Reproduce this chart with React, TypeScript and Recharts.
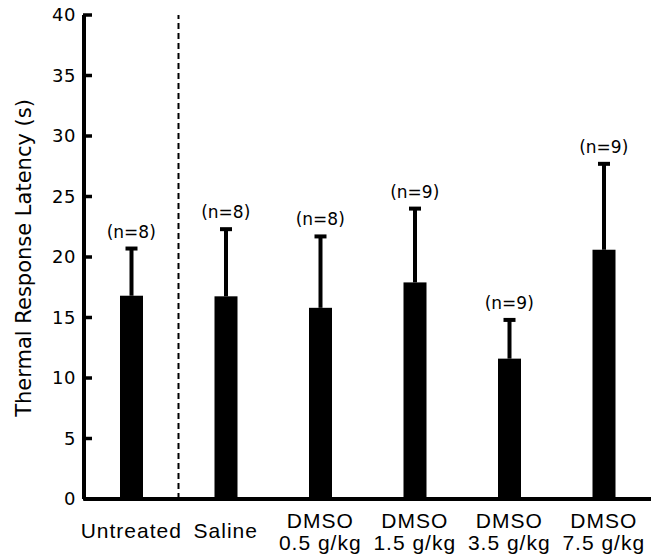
import React from 'react';
import {
  ComposedChart,
  Bar,
  Line,
  XAxis,
  YAxis,
  ReferenceLine,
  LabelList,
} from 'recharts';

const groups = ['Untreated', 'Saline', 'DMSO 0.5', 'DMSO 1.5', 'DMSO 3.5', 'DMSO 7.5'];
const labelLine1 = ['Untreated', 'Saline', 'DMSO', 'DMSO', 'DMSO', 'DMSO'];
const labelLine2 = ['', '', '0.5 g/kg', '1.5 g/kg', '3.5 g/kg', '7.5 g/kg'];
const meanLatency = [16.8, 16.75, 15.8, 17.9, 11.6, 20.6];
const upperLatency = [20.7, 22.3, 21.7, 24.0, 14.8, 27.7];
const sampleSizes = ['(n=8)', '(n=8)', '(n=8)', '(n=9)', '(n=9)', '(n=9)'];
const yTicks = [0, 5, 10, 15, 20, 25, 30, 35, 40];

const data = groups.map((g, i) => ({
  name: g,
  mean: meanLatency[i],
  upper: upperLatency[i],
  n: sampleSizes[i],
}));

const SANS = "'Liberation Sans', Arial, sans-serif";
const DV = "'DejaVu Sans', sans-serif";

const XTick = (props: any) => {
  const { x, y, payload } = props;
  const i = groups.indexOf(payload.value);
  const l1 = labelLine1[i];
  const l2 = labelLine2[i];
  const common = {
    x,
    textAnchor: 'middle' as const,
    fontFamily: SANS,
    fontSize: 21,
    letterSpacing: 1,
    fill: '#000',
  };
  if (!l2) {
    return (
      <text {...common} y={y + 39}>
        {l1}
      </text>
    );
  }
  return (
    <g>
      <text {...common} y={y + 29}>
        {l1}
      </text>
      <text {...common} y={y + 51}>
        {l2}
      </text>
    </g>
  );
};

// tickSize -8 / tickMargin 16: props.x is 8px left of the axis; the tick stub points inward
const YTick = (props: any) => {
  const { x, y, payload } = props;
  return (
    <g>
      <line x1={x + 7} x2={x + 16} y1={y} y2={y} stroke="#000" strokeWidth={3.5} />
      <text
        x={x}
        y={y}
        dy="0.36em"
        textAnchor="end"
        fontFamily={DV}
        fontSize={18}
        letterSpacing={0.5}
        fill="#000"
      >
        {payload.value}
      </text>
    </g>
  );
};

// Bar with its upper error whisker, positioned from the bar's own scale
const BarWithError = (props: any) => {
  const { x, y, width, height, payload } = props;
  const pxPerUnit = height / payload.mean;
  const topY = y - (payload.upper - payload.mean) * pxPerUnit;
  const cx = x + width / 2;
  return (
    <g>
      <rect x={x} y={y} width={width} height={height} fill="#000" />
      <line x1={cx} x2={cx} y1={y} y2={topY} stroke="#000" strokeWidth={4} />
      <line x1={cx - 6} x2={cx + 6} y1={topY} y2={topY} stroke="#000" strokeWidth={4} />
    </g>
  );
};

const NLabel = (props: any) => {
  const { x, y, value } = props;
  return (
    <text x={x} y={y - 11} textAnchor="middle" fontFamily={DV} fontSize={17} fill="#000">
      {value}
    </text>
  );
};

const YLabel = (props: any) => {
  const vb = props.viewBox || { x: 0, y: 15, width: 84, height: 484 };
  const cx = vb.x + 31;
  const cy = vb.y + vb.height / 2 + 1;
  return (
    <text
      transform={`translate(${cx},${cy}) rotate(-90)`}
      textAnchor="middle"
      fontFamily={DV}
      fontSize={21}
      fill="#000"
    >
      Thermal Response Latency (s)
    </text>
  );
};

export default function App() {
  return (
    <div style={{ position: 'absolute', left: 0, top: 0, background: '#fff' }}>
      <ComposedChart
        width={651}
        height={558}
        data={data}
        margin={{ top: 15, right: 0, bottom: 0, left: 0 }}
        barCategoryGap={0}
      >
        <XAxis
          dataKey="name"
          type="category"
          height={59}
          axisLine={{ stroke: '#000', strokeWidth: 4 }}
          tickLine={false}
          tickSize={0}
          tickMargin={0}
          tick={<XTick />}
          interval={0}
        />
        <YAxis
          type="number"
          domain={[0, 40]}
          ticks={yTicks}
          width={84}
          axisLine={{ stroke: '#000', strokeWidth: 4 }}
          tickLine={false}
          tickSize={-8}
          tickMargin={16}
          tick={<YTick />}
          interval={0}
          label={<YLabel />}
        />
        <ReferenceLine
          x="Untreated"
          position="end"
          stroke="#000"
          strokeWidth={2}
          strokeDasharray="6 4"
        />
        <Bar
          dataKey="mean"
          fill="#000"
          barSize={23}
          shape={<BarWithError />}
          isAnimationActive={false}
        />
        <Line
          dataKey="upper"
          stroke="none"
          dot={false}
          activeDot={false}
          isAnimationActive={false}
        >
          <LabelList dataKey="n" content={<NLabel />} />
        </Line>
      </ComposedChart>
    </div>
  );
}
